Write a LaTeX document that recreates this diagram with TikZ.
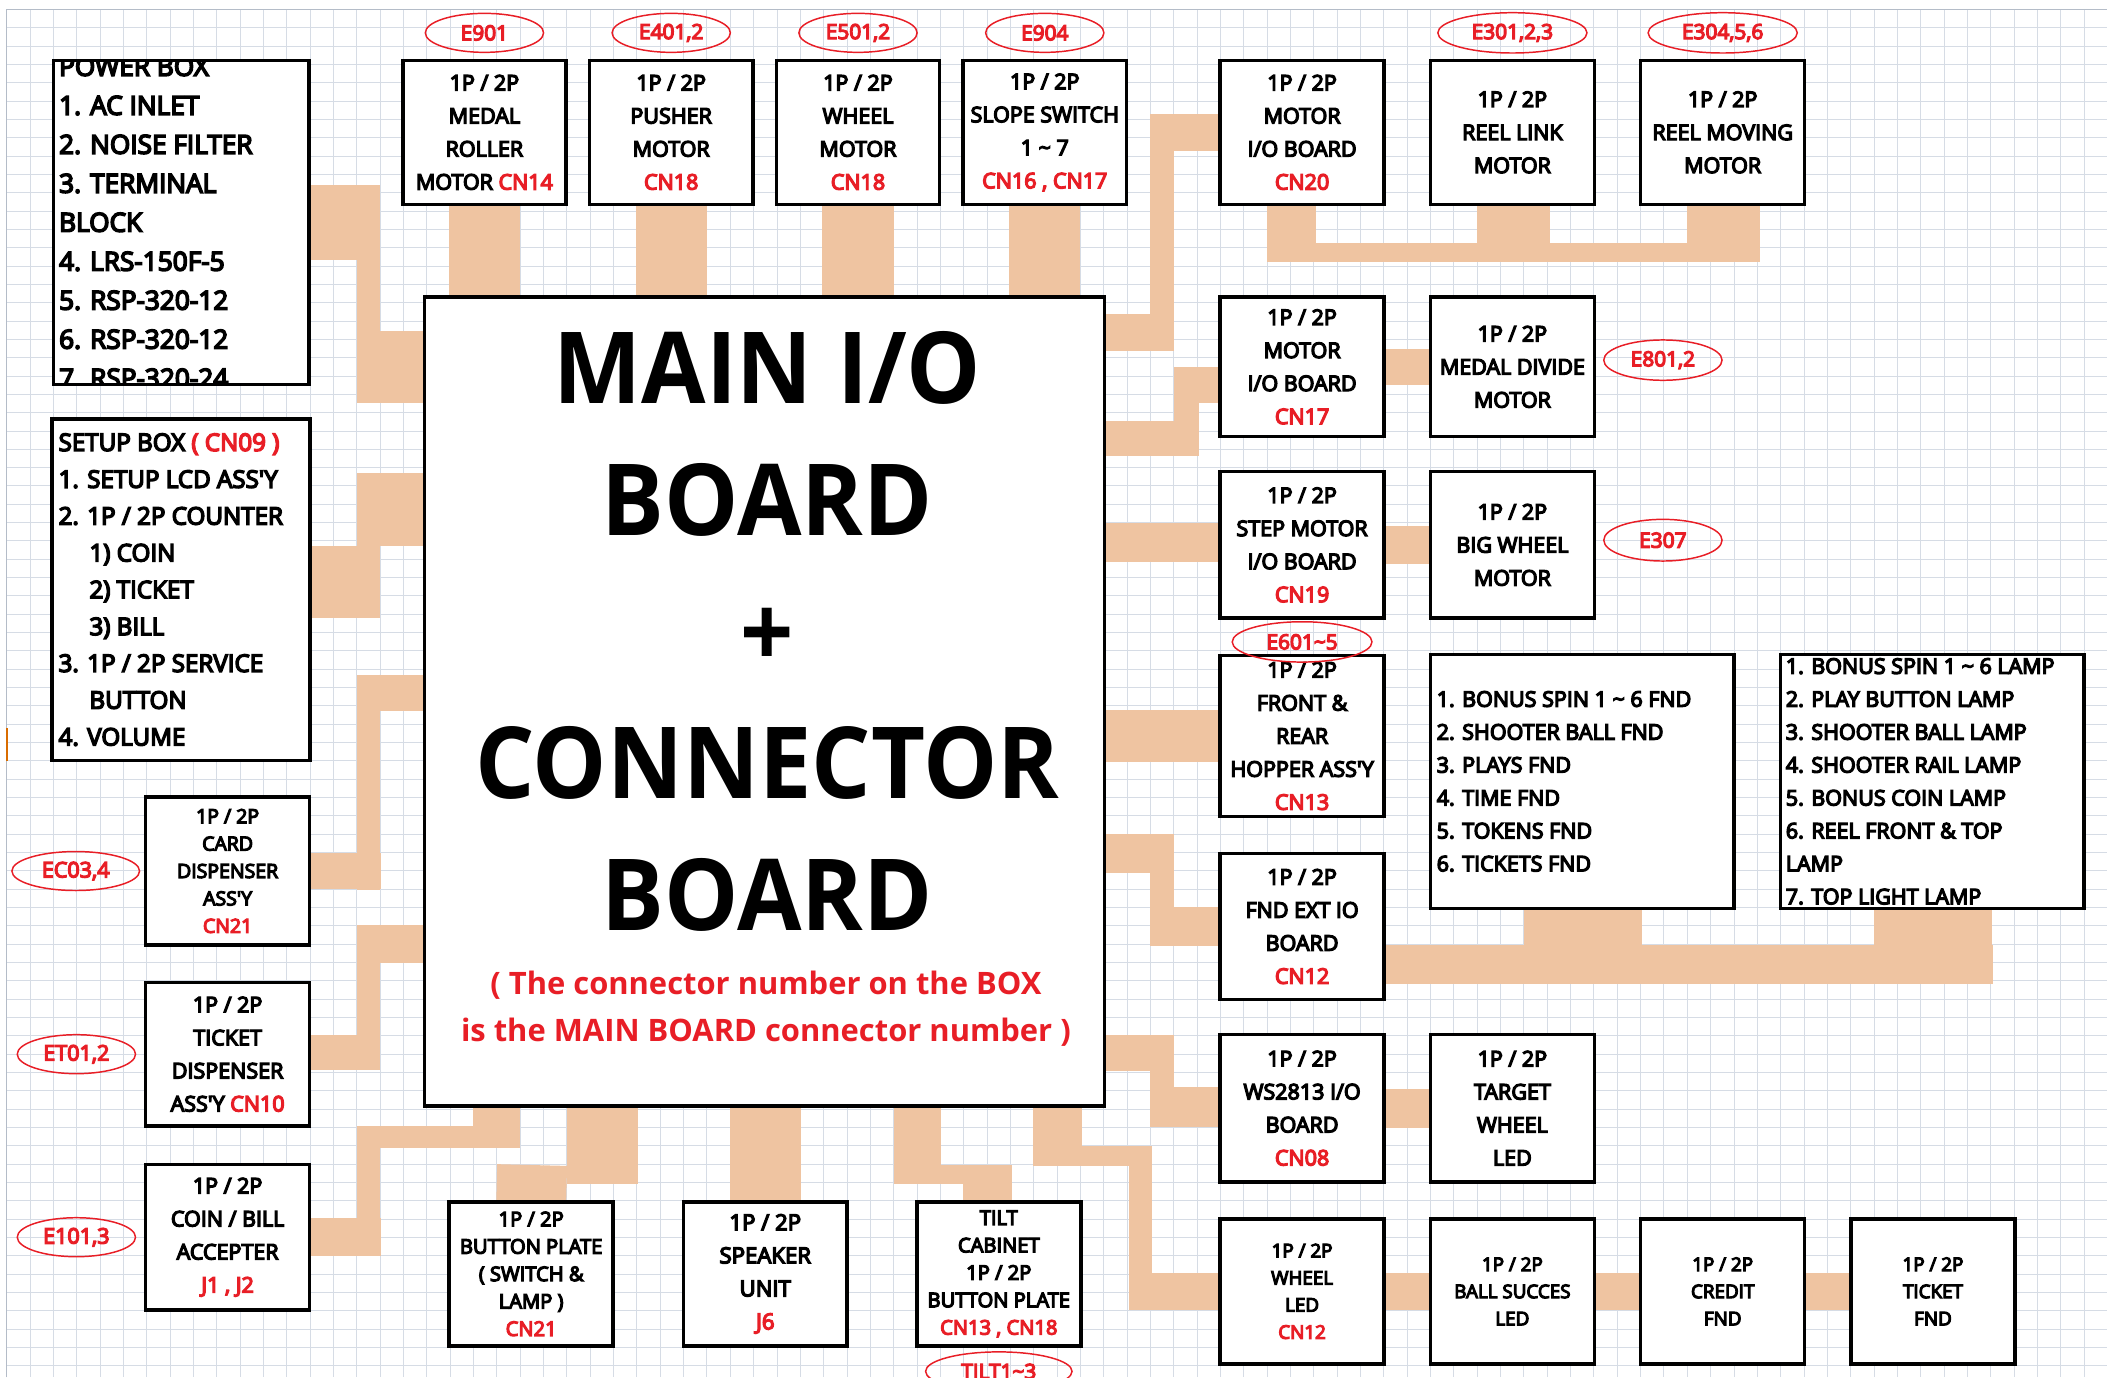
\documentclass[tikz,border=0pt]{standalone}
\usepackage{fontspec}
\setmainfont{Open Sans}
\newfontfamily\boxfont{Open Sans}[FakeBold=6]
\usepackage{graphicx}
\usetikzlibrary{positioning,shapes.geometric,backgrounds}
\definecolor{cnred}{RGB}{232,30,38}
\definecolor{wire}{RGB}{239,196,161}
\definecolor{gridc}{RGB}{214,220,229}
\definecolor{framec}{RGB}{180,188,200}
\newcommand{\cn}[1]{\textcolor{cnred}{#1}}
\newcommand{\apos}{\textquotesingle}
\newcommand{\narrow}[1]{\scalebox{0.94}[1]{#1}}
\tikzset{
  unit/.style={draw,line width=2.6pt,fill=white,align=center,inner sep=0pt,outer sep=0pt,
    minimum width=122pt,minimum height=107pt,font=\boxfont\fontsize{16}{24.6}\selectfont},
  small/.style={font=\boxfont\fontsize{14}{20.2}\selectfont},
  listbox/.style={draw,line width=2.6pt,fill=white,inner sep=0pt,outer sep=0pt},
  listtext/.style={anchor=west,align=left,inner sep=0pt,draw=none,fill=none,
    minimum width=0pt,minimum height=0pt},
  tag/.style={ellipse,draw=cnred,line width=1.1pt,text=cnred,inner sep=0pt,
    minimum width=88pt,minimum height=29pt,font=\boxfont\fontsize{15.5}{15.5}\selectfont},
  band/.style={draw=wire,line width=#1},
  cell/.style={draw=gridc,line width=0.7pt},
}

\begin{document}
\begin{tikzpicture}[x=1pt,y=-1pt]
\useasboundingbox (0,0) rectangle (1568,1025);

% main board
\node[draw,line width=2.4pt,fill=white,inner sep=0pt,outer sep=0pt,minimum width=506pt,minimum height=602pt] (main) at (569,522) {};
\node[font=\bfseries\fontsize{74}{98}\selectfont,align=center,inner sep=0pt] (title) at (571,470)
  {\narrow{MAIN I/O}\\\narrow{BOARD}\\\narrow{+}\\\narrow{CONNECTOR}\\\narrow{BOARD}};
\node[font=\bfseries\fontsize{23}{35}\selectfont,text=cnred,align=center,inner sep=0pt] (note) at (570,751)
  {( The connector number on the BOX\\is the MAIN BOARD connector number )};

% left side
\node[listbox,minimum width=190pt,minimum height=241pt,
  path picture={\node[listtext,font=\boxfont\fontsize{19.5}{29}\selectfont] at ([xshift=4pt]path picture bounding box.west)
  {POWER BOX\\1. AC INLET\\2. NOISE FILTER\\3. TERMINAL\\BLOCK\\4. LRS-150F-5\\5. RSP-320-12\\6. RSP-320-12\\7. RSP-320-24};}]
  (pwr) at (135,165.5) {};
\node[listbox,minimum width=192pt,minimum height=254pt,
  path picture={\node[listtext,font=\boxfont\fontsize{18}{27.4}\selectfont] at ([xshift=5pt]path picture bounding box.west)
  {SETUP BOX \cn{( CN09 )}\\1. SETUP LCD ASS\apos Y\\2. 1P / 2P COUNTER\\\hspace*{23pt}1) COIN\\\hspace*{23pt}2) TICKET\\\hspace*{23pt}3) BILL\\3. 1P / 2P SERVICE\\\hspace*{23pt}BUTTON\\4. VOLUME};}]
  (setup) at (134.6,438.8) {};
\node[unit,minimum height=110pt,font=\boxfont\fontsize{14.5}{20.4}\selectfont] (card) at (169.4,648.2) {1P / 2P\\CARD\\DISPENSER\\ASS\apos Y\\\cn{CN21}};
\node[unit] (ticket) at (169.4,784.5) {1P / 2P\\TICKET\\DISPENSER\\ASS\apos Y \cn{CN10}};
\node[unit,minimum height=108pt] (coin) at (169.4,920.7) {1P / 2P\\COIN / BILL\\ACCEPTER\\\cn{J1 , J2}};
\node[tag,minimum width=95pt,font=\boxfont\fontsize{16}{16}\selectfont,left=4pt of card] (ec03) {EC03,4};
\node[tag,font=\boxfont\fontsize{16}{16}\selectfont,left=7pt of ticket] (et01) {ET01,2};
\node[tag,font=\boxfont\fontsize{16}{16}\selectfont,left=7pt of coin] (e101) {E101,3};

% top row
\node[unit,minimum width=121.5pt] (roller) at (360.5,98.5) {1P / 2P\\MEDAL\\ROLLER\\MOTOR \cn{CN14}};
\node[unit,minimum width=121.5pt,right=17.5pt of roller] (pusher) {1P / 2P\\PUSHER\\MOTOR\\\cn{CN18}};
\node[unit,minimum width=121.5pt,right=17.5pt of pusher] (wheelm) {1P / 2P\\WHEEL\\MOTOR\\\cn{CN18}};
\node[unit,minimum width=121.5pt,right=17.5pt of wheelm] (slope) {1P / 2P\\SLOPE SWITCH\\1 \textasciitilde{} 7\\\cn{CN16 , CN17}};
\node[tag,above=5.5pt of roller] (e901) {E901};
\node[tag,above=5.5pt of pusher] (e401) {E401,2};
\node[tag,above=5.5pt of wheelm] (e501) {E501,2};
\node[tag,above=5.5pt of slope] (e904) {E904};

% right side
\node[unit] (m20) at (969,98.5) {1P / 2P\\MOTOR\\I/O BOARD\\\cn{CN20}};
\node[unit,right=34.5pt of m20] (reel) {1P / 2P\\REEL LINK\\MOTOR};
\node[unit,right=34.5pt of reel] (rmove) {1P / 2P\\REEL MOVING\\MOTOR};
\node[tag,minimum width=111pt,minimum height=30pt,above=5pt of reel] (e301) {E301,2,3};
\node[tag,minimum width=111pt,minimum height=30pt,above=5pt of rmove] (e304) {E304,5,6};

\node[unit,minimum height=104pt] (m17) at (969,273) {1P / 2P\\MOTOR\\I/O BOARD\\\cn{CN17}};
\node[unit,minimum height=104pt,right=34.5pt of m17] (divide) {1P / 2P\\MEDAL DIVIDE\\MOTOR};
\node[tag,minimum height=30pt] (e801) at (1237.5,268) {E801,2};

\node[unit,minimum height=109pt] (step) at (969,405.5) {1P / 2P\\STEP MOTOR\\I/O BOARD\\\cn{CN19}};
\node[unit,minimum height=109pt,right=34.5pt of step] (bigw) {1P / 2P\\BIG WHEEL\\MOTOR};
\node[tag,minimum height=31pt] (e307) at (1237.5,402) {E307};

\node[unit,minimum height=120pt] (hopper) at (969,547.7) {1P / 2P\\FRONT \&\\REAR\\HOPPER ASS\apos Y\\\cn{CN13}};
\node[listbox,minimum width=225.6pt,minimum height=189pt,
  path picture={\node[listtext,font=\boxfont\fontsize{16}{24.5}\selectfont] at ([xshift=4.5pt]path picture bounding box.west)
  {1. BONUS SPIN 1 \textasciitilde{} 6 FND\\2. SHOOTER BALL FND\\3. PLAYS FND\\4. TIME FND\\5. TOKENS FND\\6. TICKETS FND};}]
  (fndlist) at (1177.5,581.5) {};
\node[listbox,minimum width=226pt,minimum height=189pt,
  path picture={\node[listtext,font=\boxfont\fontsize{16}{24.5}\selectfont] at ([xshift=4pt]path picture bounding box.west)
  {1. BONUS SPIN 1 \textasciitilde{} 6 LAMP\\2. PLAY BUTTON LAMP\\3. SHOOTER BALL LAMP\\4. SHOOTER RAIL LAMP\\5. BONUS COIN LAMP\\6. REEL FRONT \& TOP\\LAMP\\7. TOP LIGHT LAMP};}]
  (lamplist) at (1438,581.5) {};
\node[tag,minimum width=104pt,minimum height=30pt] (e601) at ([yshift=10pt]hopper.north) {E601\textasciitilde5};

\node[unit,minimum height=108.5pt] (fext) at (969,689.5) {1P / 2P\\FND EXT IO\\BOARD\\\cn{CN12}};
\node[unit,minimum height=110pt] (ws) at (969,824.7) {1P / 2P\\WS2813 I/O\\BOARD\\\cn{CN08}};
\node[unit,minimum height=110pt,right=34.5pt of ws] (target) {1P / 2P\\TARGET\\WHEEL\\LED};

\node[unit,small,minimum height=108pt] (wled) at (969,961) {1P / 2P\\WHEEL\\LED\\\cn{CN12}};
\node[unit,small,minimum height=108pt,right=34.5pt of wled] (ball) {1P / 2P\\BALL SUCCES\\LED};
\node[unit,small,minimum height=108pt,right=34.5pt of ball] (credit) {1P / 2P\\CREDIT\\FND};
\node[unit,small,minimum height=108pt,right=34.5pt of credit] (tfnd) {1P / 2P\\TICKET\\FND};

% bottom row
\node[unit,font=\boxfont\fontsize{15}{20.4}\selectfont] (button) at (395.3,948) {1P / 2P\\BUTTON PLATE\\( SWITCH \&\\LAMP )\\\cn{CN21}};
\node[unit,font=\boxfont\fontsize{16.5}{24.6}\selectfont] (speaker) at (569.5,948) {1P / 2P\\SPEAKER\\UNIT\\\cn{J6}};
\node[unit,font=\boxfont\fontsize{15}{20.4}\selectfont] (tilt) at (743.3,948) {TILT\\CABINET\\1P / 2P\\BUTTON PLATE\\\cn{CN13 , CN18}};
\node[tag,minimum width=109pt,below=4pt of tilt] (tilt13) {TILT1\textasciitilde3};

\begin{scope}[on background layer]
% sheet grid
\foreach \i in {0,...,90} \draw[cell] ({5+17.37*\i},7) -- ({5+17.37*\i},1025);
\foreach \j in {0,...,74} \draw[cell] (5,{7+13.64*\j}) -- (1568,{7+13.64*\j});
\draw[draw=framec,line width=1pt] (5,1025) -- (5,7) -- (1568,7);
\draw[draw=orange!85!black,line width=1.5pt] (5,542) -- (5,566);

% left harness
\draw[band=56] (pwr.east) -- ++(53,0);
\draw[band=17] (274.5,138) -- (274.5,300);
\draw[band=54] (266,273) -- (main.west |- 0,273);
\draw[band=54] (setup.east |- 0,433) -- (283,433);
\draw[band=54] (266,379) -- (main.west |- 0,379);
\draw[band=27] (card.east) -- ++(53,0);
\draw[band=17] (274.5,502) -- (274.5,662);
\draw[band=27] (266,515.5) -- (main.west |- 0,515.5);
\draw[band=26] (ticket.east |- 0,783) -- (283,783);
\draw[band=17] (274.5,688) -- (274.5,796);
\draw[band=29] (266,702.5) -- (main.west |- 0,702.5);
\draw[band=28] (coin.east) -- ++(53,0);
\draw[band=17] (274.5,838) -- (274.5,935);
\draw[band=16] (266,846) -- (387,846);
\draw[band=35] (main.south -| 369.5,0) -- (369.5,854);

% top harness
\foreach \n in {roller,pusher,wheelm,slope}
  \draw[band=53] (\n.south) -- (\n.south |- main.north);

% bottom harness
\draw[band=53] (main.south -| 448.5,0) -- (448.5,881);
\draw[band=52] (396,867) -- (button.north);
\draw[band=53] (main.south -| speaker.north) -- (speaker.north);
\draw[band=35] (main.south -| 682.5,0) -- (682.5,881);
\draw[band=14] (665,874) -- (753,874);
\draw[band=36] (735,867) -- (tilt.north -| 735,0);
\draw[band=36] (main.south -| 787,0) -- (787,868);
\draw[band=15] (769,860.5) -- (857,860.5);
\draw[band=17] (848.5,853) -- (848.5,975);
\draw[band=28] (840,961) -- (wled.west);

% right harness
\draw[band=27] (main.east |- 0,247.5) -- (874,247.5);
\draw[band=18] (865,261) -- (865,85);
\draw[band=27] (856,98.5) -- (m20.west);
\draw[band=26] (main.east |- 0,326) -- (892,326);
\draw[band=18] (883,339) -- (883,273);
\draw[band=27] (874,286.5) -- (m17.west |- 0,286.5);
\draw[band=29] (main.east |- 0,404) -- (step.west |- 0,404);
\draw[band=38] (main.east |- hopper.west) -- (hopper.west);
\draw[band=29] (main.east |- 0,635.5) -- (874,635.5);
\draw[band=18] (865,621) -- (865,704);
\draw[band=29] (856,689.5) -- (fext.west);
\draw[band=27] (main.east |- 0,783.5) -- (874,783.5);
\draw[band=18] (865,770) -- (865,839);
\draw[band=30] (856,824) -- (ws.west |- 0,824);

\draw[band=36] (m20.south -| 961,0) -- (961,195);
\draw[band=14] (943,188) -- (1309.4,188);
\draw[band=54] (reel.south -| 1126.4,0) -- (1126.4,195);
\draw[band=54] (rmove.south -| 1282.7,0) -- (1282.7,195);
\draw[band=27] (m17.east) -- (divide.west);
\draw[band=28] (step.east) -- (bigw.west);
\draw[band=28.5] (fext.east |- 0,717.8) -- (1483,717.8);
\draw[band=88] (fndlist.south -| 1178,0) -- (1178,732);
\draw[band=88] (lamplist.south -| 1438.7,0) -- (1438.7,732);
\draw[band=29] (ws.east) -- (target.west);
\draw[band=28] (wled.east) -- (ball.west);
\draw[band=28] (ball.east) -- (credit.west);
\draw[band=28] (credit.east) -- (tfnd.west);
\end{scope}
\end{tikzpicture}
\end{document}
